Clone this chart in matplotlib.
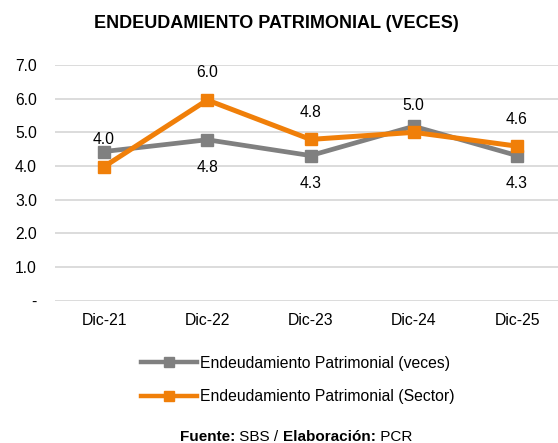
import matplotlib
matplotlib.use('Agg')
import matplotlib.pyplot as plt
from matplotlib.lines import Line2D

## data
periodos = ['Dic-21', 'Dic-22', 'Dic-23', 'Dic-24', 'Dic-25']
ep_veces = [4.43, 4.78, 4.31, 5.18, 4.31]
ep_sector = [3.98, 5.96, 4.79, 5.0, 4.59]
lab_veces = ['', '4.8', '4.3', '', '4.3']
lab_sector = ['4.0', '6.0', '4.8', '5.0', '4.6']
y_ticks = [0, 1, 2, 3, 4, 5, 6, 7]
y_tick_lab = ['-', '1.0', '2.0', '3.0', '4.0', '5.0', '6.0', '7.0']
nombres = ['Endeudamiento Patrimonial (veces)', 'Endeudamiento Patrimonial (Sector)']

plt.rcParams['font.family'] = ['Liberation Sans', 'DejaVu Sans']
fs = 11.3
c_gray = '#808080'
c_orng = '#F07F09'

W, H = 558, 443
fig = plt.figure(figsize=(W / 100, H / 100), dpi=100)
## axes in pixel box: x 55..558, y 65..300.7
ax = fig.add_axes([55 / W, 1 - 300.7 / H, (558 - 55) / W, (300.7 - 65) / H])

x = range(len(periodos))
ax.plot(x, ep_veces, color=c_gray, lw=3.4, marker='s', ms=8, zorder=3, clip_on=False)
ax.plot(x, ep_sector, color=c_orng, lw=3.6, marker='s', ms=8.5, zorder=4, clip_on=False)

for i, (v, t) in enumerate(zip(ep_veces, lab_veces)):
	if t:
		ax.annotate(t, (i, v), xytext=(0, -20), textcoords='offset points', ha='center', va='center', fontsize=fs)
for i, (v, t) in enumerate(zip(ep_sector, lab_sector)):
	ax.annotate(t, (i, v), xytext=(0, 19.5), textcoords='offset points', ha='center', va='center', fontsize=fs)

ax.set_xlim(-0.475, 4.397)
ax.set_ylim(0, 7)
ax.set_yticks(y_ticks)
ax.set_yticklabels(y_tick_lab)
ax.set_xticks(list(x))
ax.set_xticklabels(periodos)
ax.tick_params(length=0, labelsize=fs)
ax.tick_params(axis='x', pad=9)
ax.tick_params(axis='y', pad=13)
ax.grid(axis='y', color='#D9D9D9', lw=1.3)
ax.set_axisbelow(True)
for s in ax.spines.values():
	s.set_visible(False)

fig.text(276 / W, 1 - 23 / H, 'ENDEUDAMIENTO PATRIMONIAL (VECES)', ha='center', va='center', fontsize=13, fontweight='bold')

## legend
handles = [Line2D([], [], color=c_gray, lw=3.2, marker='s', ms=6.5),
		   Line2D([], [], color=c_orng, lw=3.2, marker='s', ms=6.5)]
fig.legend(handles, nombres, loc='center left', bbox_to_anchor=(133 / W, 1 - 380 / H), ncol=1, frameon=False,
		   fontsize=fs, handlelength=3.6, handletextpad=0.15, labelspacing=1.2, borderpad=0)

## footer with mixed weights
parts = [('Fuente:', 'bold'), (' SBS / ', 'normal'), ('Elaboración:', 'bold'), (' PCR', 'normal')]
fig.canvas.draw()
r = fig.canvas.get_renderer()
txts = [fig.text(0, 1 - 437 / H, p, fontsize=11, fontweight=w, va='center') for p, w in parts]
widths = [t.get_window_extent(r).width for t in txts]
x0 = 296 - sum(widths) / 2
for t, w in zip(txts, widths):
	t.set_x(x0 / W)
	x0 += w

fig.savefig('out.png', dpi=100)
